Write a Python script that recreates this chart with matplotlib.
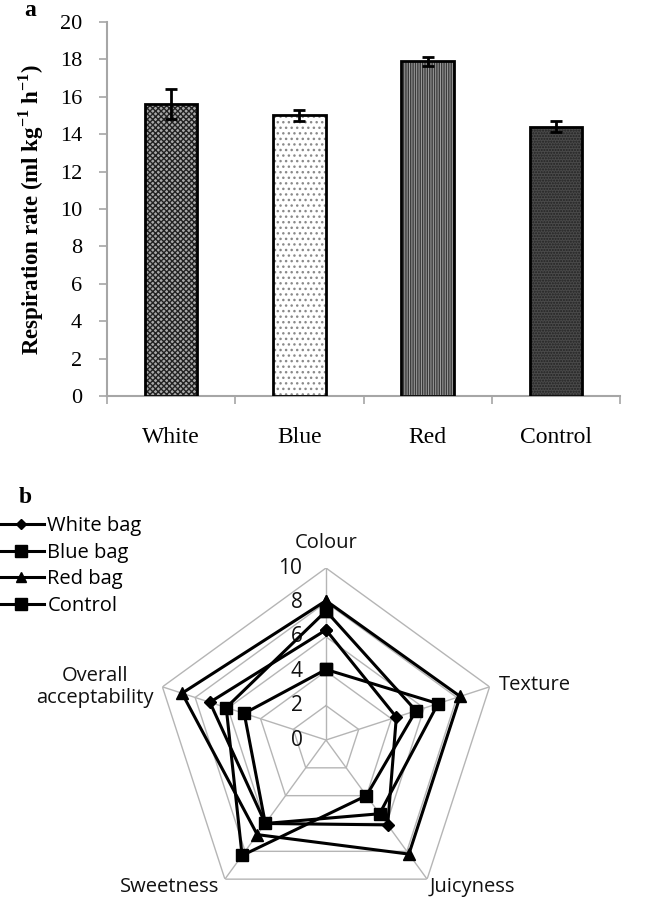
import numpy as np
import matplotlib
matplotlib.use("Agg")
import matplotlib.pyplot as plt
from matplotlib.lines import Line2D

# ---------------- data ----------------
bar_categories = ["White", "Blue", "Red", "Control"]
resp_rate = [15.6, 15.0, 17.9, 14.4]
resp_err = [0.8, 0.3, 0.25, 0.3]
bar_yticks = [0, 2, 4, 6, 8, 10, 12, 14, 16, 18, 20]

radar_axes = ["Colour", "Texture", "Juicyness", "Sweetness", "Overall\nacceptability"]
series_names = ["White bag", "Blue bag", "Red bag", "Control"]
white_bag = [6.4, 4.3, 6.1, 6.0, 7.1]
blue_bag = [7.5, 5.5, 4.0, 8.3, 6.1]
red_bag = [8.1, 8.2, 8.2, 6.8, 8.8]
control = [4.1, 6.85, 5.3, 6.0, 5.0]
radar_ticks = [0, 2, 4, 6, 8, 10]

# ---------------- figure ----------------
W, H = 648, 897
plt.rcParams['hatch.linewidth'] = 1.0
plt.rcParams['mathtext.fontset'] = 'custom'
plt.rcParams['mathtext.rm'] = 'Liberation Serif'
plt.rcParams['mathtext.bf'] = 'Liberation Serif:bold'
fig = plt.figure(figsize=(W / 100, H / 100), dpi=100)

serif = ["Liberation Serif", "DejaVu Serif"]
sans = ["Open Sans", "DejaVu Sans"]
grey = "#a6a6a6"

# ---- panel a: bar chart ----
ax = fig.add_axes([107 / W, 1 - 396 / H, (620 - 107) / W, (396 - 22) / H])
x = np.arange(len(bar_categories))
faces = ["#a8a8a8", "#ffffff", "#a0a0a0", "#4a4a4a"]
hatch_cols = ["#222222", "#8a8a8a", "#3a3a3a", "#222222"]
hatches = ["xxxxxx", "...", "|||||||", "......"]
bars = ax.bar(x, resp_rate, width=0.41, color=faces, linewidth=0, zorder=2)
for p, h, c in zip(bars, hatches, hatch_cols):
    p.set_hatch(h)
    p.set_edgecolor(c)
ax.bar(x, resp_rate, width=0.41, fill=False, edgecolor="black", linewidth=2.0, zorder=3)
ax.errorbar(x, resp_rate, yerr=resp_err, fmt="none", ecolor="black",
            elinewidth=2.0, capsize=4, capthick=2.0, zorder=4)

ax.set_xlim(-0.5, 3.5)
ax.set_ylim(0, 20)
ax.set_yticks(bar_yticks)
ax.set_yticklabels([str(t) for t in bar_yticks], fontfamily=serif, fontsize=16)
ax.set_xticks(x)
ax.set_xticklabels(bar_categories, fontfamily=serif, fontsize=17)
ax.set_xticks(np.arange(-0.5, 4.0, 1.0), minor=True)
ax.tick_params(axis="x", which="major", length=0, pad=22)
ax.tick_params(axis="x", which="minor", length=6, color=grey, width=1.2, direction="out")
ax.tick_params(axis="y", length=6, color=grey, width=1.2, direction="out", pad=12)
for s in ["top", "right"]:
    ax.spines[s].set_visible(False)
for s in ["left", "bottom"]:
    ax.spines[s].set_color(grey)
    ax.spines[s].set_linewidth(1.5)
ax.set_ylabel("Respiration rate (ml kg$^{\\mathbf{-1}}$ h$^{\\mathbf{-1}}$)",
              fontfamily=serif, fontsize=16.5, fontweight="bold", labelpad=10)
fig.text(30 / W, 1 - 10 / H, "a", fontfamily=serif, fontsize=17, fontweight="bold",
         ha="center", va="center")

# ---- panel b: radar chart ----
cx, cy, R = 326, 740, 172
rax = fig.add_axes([(cx - R) / W, (H - cy - R) / H, 2 * R / W, 2 * R / H], projection="polar")
rax.set_theta_offset(np.pi / 2)
rax.set_theta_direction(-1)
rax.set_ylim(0, 10)
rax.grid(False)
rax.spines["polar"].set_visible(False)
rax.set_xticks([])
rax.set_yticks([])
rax.patch.set_alpha(0)

n = len(radar_axes)
theta = np.arange(n) * 2 * np.pi / n
theta_c = np.concatenate([theta, theta[:1]])
for r in radar_ticks[1:]:
    rax.plot(theta_c, [r] * (n + 1), color="#b5b5b5", lw=1.0, zorder=1)
for t in theta:
    rax.plot([t, t], [0, 10], color="#b5b5b5", lw=1.0, zorder=1)

for r in radar_ticks:
    rax.annotate(str(r), xy=(0, r), xytext=(-17, 0), textcoords="offset points",
                 ha="right", va="center", fontsize=15, fontfamily=sans, color="#111111")

series = [white_bag, blue_bag, red_bag, control]
markers = ["D", "s", "^", "s"]
msizes = [6, 9, 8, 9]
handles = []
for vals, m, ms, name in zip(series, markers, msizes, series_names):
    v = list(vals) + [vals[0]]
    rax.plot(theta_c, v, color="black", lw=2.2, marker=m, markersize=ms, zorder=3, clip_on=False)
    handles.append(Line2D([], [], color="black", lw=2.2, marker=m, markersize=ms - 1, label=name))

label_offsets = [(0, 11, "center", "bottom"),
                 (7, 1, "left", "center"),
                 (2, -6, "left", "center"),
                 (-4, -6, "right", "center"),
                 (-6, 0, "right", "center")]
for t, lab, (dx, dy, ha, va) in zip(theta, radar_axes, label_offsets):
    rax.annotate(lab, xy=(t, 10), xytext=(dx, dy), textcoords="offset points",
                 ha=ha, va=va, fontsize=14.5, fontfamily=sans, color="#111111",
                 linespacing=1.1, multialignment="center", annotation_clip=False)

fig.text(25 / W, 1 - 497 / H, "b", fontfamily=serif, fontsize=17, fontweight="bold",
         ha="center", va="center")
fig.legend(handles=handles, loc="upper left", bbox_to_anchor=(-2 / W, 1 - 516 / H),
           frameon=False, prop={"family": sans, "size": 14.5}, handlelength=2.3,
           handletextpad=0.15, labelspacing=0.33, borderaxespad=0, borderpad=0)

fig.savefig("out.png", dpi=100)
